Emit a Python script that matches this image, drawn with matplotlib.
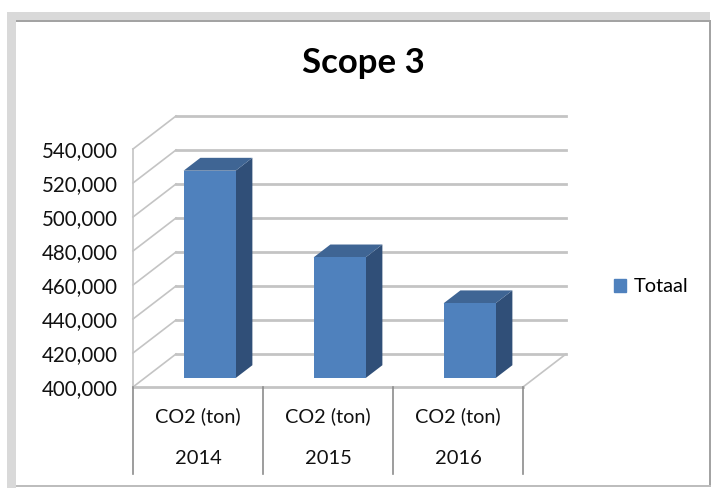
import matplotlib
matplotlib.use('Agg')
import matplotlib.pyplot as plt
from matplotlib.patches import Rectangle, Patch

plt.rcParams['font.family'] = ['Lato', 'DejaVu Sans']

W, H = 712, 488

years = ['2014', '2015', '2016']
measure = ['CO2 (ton)', 'CO2 (ton)', 'CO2 (ton)']
totals = [522000, 471000, 444000]
y_ticks = [400000, 420000, 440000, 460000, 480000, 500000, 520000, 540000]
series_name = 'Totaal'

# oblique projection of the "3D" box: depth 0 = front plane, depth 1 = back wall
DX = 43 / 130
DY = 33 / 34 * 20000
BAR_W = 0.4
FRONT_D = 0.27
BACK_D = 0.66

FACE = '#4f81bd'
TOP = '#3f6594'
SIDE = '#304f78'
GRID = '#c4c4c4'


def proj(x, v, d):
    return x + d * DX, v + d * DY


def face(ax, corners, color, z):
    pts = [proj(*c) for c in corners]
    ax.fill([p[0] for p in pts], [p[1] for p in pts], color=color, lw=0,
            zorder=z, clip_on=False)


fig = plt.figure(figsize=(W / 100, H / 100), dpi=100, facecolor='white')

# window frame around the screenshot
frame = [
    (7, 12, 703, 8, '#d9d9d9'),
    (7, 12, 9, 476, '#d9d9d9'),
    (16, 20, 695, 2, '#a3a3a3'),
    (709, 20, 2, 466, '#a3a3a3'),
    (16, 485, 695, 2, '#bdbdbd'),
]
for x, y, w, h, c in frame:
    fig.add_artist(Rectangle((x / W, 1 - (y + h) / H), w / W, h / H,
                             transform=fig.transFigure, color=c, lw=0))

ax = fig.add_axes([133 / W, (H - 387) / H, 390 / W, 238 / H])
ax.set_xlim(0, 3)
ax.set_ylim(400000, 540000)
ax.patch.set_alpha(0)
for s in ax.spines.values():
    s.set_visible(False)

ax.set_xticks([])
ax.set_yticks(y_ticks)
ax.set_yticklabels([f'{v:,}' for v in y_ticks], fontsize=14.8, color='#111111')
ax.tick_params(axis='y', length=0, pad=11)

# back wall gridlines, side wall diagonals
for v in y_ticks:
    x0, y0 = proj(0, v, 1)
    x1, y1 = proj(3, v, 1)
    ax.plot([x0, x1], [y0, y1], color=GRID, lw=2, zorder=1, clip_on=False)
    ax.plot([0, x0], [v, y0], color=GRID, lw=1.2, zorder=1, clip_on=False)
ax.plot([0, 0], [400000, 540000], color=GRID, lw=1.2, zorder=1, clip_on=False)

# floor edges
x0, y0 = proj(3, 400000, 1)
ax.plot([3, x0], [400000, y0], color=GRID, lw=1.2, zorder=1, clip_on=False)
ax.plot([0, 3], [400000, 400000], color=GRID, lw=2, zorder=1, clip_on=False)

# bars
for i, v in enumerate(totals):
    l = i + 0.5 - BAR_W / 2
    r = i + 0.5 + BAR_W / 2
    b = 400000
    face(ax, [(l, b, FRONT_D), (r, b, FRONT_D), (r, v, FRONT_D), (l, v, FRONT_D)], FACE, 4)
    face(ax, [(r, b, FRONT_D), (r, b, BACK_D), (r, v, BACK_D), (r, v, FRONT_D)], SIDE, 3)
    face(ax, [(l, v, FRONT_D), (r, v, FRONT_D), (r, v, BACK_D), (l, v, BACK_D)], TOP, 3)

# two-level category axis
tr = ax.get_xaxis_transform()
for x in range(len(years) + 1):
    ax.plot([x, x], [0, -87 / 238], transform=tr, color='#8c8c8c', lw=1.2, clip_on=False)
for i in range(len(years)):
    ax.text(i + 0.5, -29 / 238, measure[i], transform=tr, ha='center', va='center',
            fontsize=14.3, color='#111111')
    ax.text(i + 0.5, -71 / 238, years[i], transform=tr, ha='center', va='center',
            fontsize=14.5, color='#111111')

fig.text(363 / W, 1 - 63 / H, 'Scope 3', ha='center', va='center',
         fontsize=25, fontweight='bold', color='black')

fig.legend(handles=[Patch(color=FACE, label=series_name)], loc='center left',
           bbox_to_anchor=(614 / W, 1 - 287 / H), frameon=False, fontsize=14.4,
           handlelength=0.6, handleheight=0.6, handletextpad=0.4,
           borderpad=0, borderaxespad=0)

fig.savefig('out.png', dpi=100)
